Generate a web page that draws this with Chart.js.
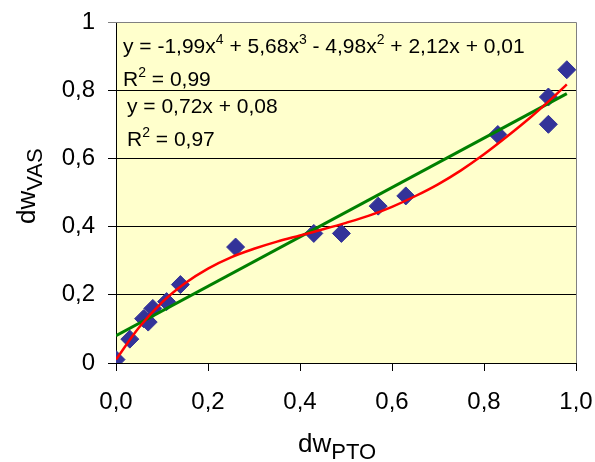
<!DOCTYPE html>
<html>
<head>
<meta charset="utf-8">
<script src="https://cdn.jsdelivr.net/npm/chart.js@4"></script>
<style>
    html, body { margin: 0; padding: 0; background: #ffffff; }
    #wrap { width: 595px; height: 462px; position: relative; }
</style>
</head>
<body>
<div id="wrap"><canvas id="scatterChart" width="595" height="462"></canvas></div>
<script>
'use strict';

// measured points (dwPTO vs dwVAS)
const dwPto = [0.00, 0.03, 0.06, 0.07, 0.08, 0.11, 0.14, 0.26, 0.43, 0.49, 0.57, 0.63, 0.83, 0.94, 0.94, 0.98];
const dwVas = [0.01, 0.07, 0.13, 0.12, 0.16, 0.18, 0.23, 0.34, 0.38, 0.38, 0.46, 0.49, 0.67, 0.78, 0.70, 0.86];

// polynomial trendline
const polyX = [0.00, 0.05, 0.10, 0.15, 0.20, 0.25, 0.30, 0.35, 0.40, 0.45, 0.50, 0.55, 0.60, 0.65, 0.70, 0.75, 0.80, 0.85, 0.90, 0.95, 0.98];
const polyY = [0.010, 0.104, 0.178, 0.234, 0.277, 0.310, 0.335, 0.356, 0.374, 0.392, 0.411, 0.432, 0.458, 0.489, 0.524, 0.565, 0.612, 0.664, 0.719, 0.779, 0.817];

// linear trendline ends
const linX = [0.00, 0.98];
const linY = [0.08, 0.79];

const xTicks = [0, 0.2, 0.4, 0.6, 0.8, 1.0];
const yTicks = [0, 0.2, 0.4, 0.6, 0.8, 1.0];

const xTitle = ['dw', 'PTO'];
const yTitle = ['dw', 'VAS'];

// equation labels: [text, superscript] pieces
const polyEquation = [['y = -1,99x', '4'], [' + 5,68x', '3'], [' - 4,98x', '2'], [' + 2,12x + 0,01', '']];
const polyR2 = [['R', '2'], [' = 0,99', '']];
const linEquation = [['y = 0,72x + 0,08', '']];
const linR2 = [['R', '2'], [' = 0,97', '']];

const FONT = '"Liberation Sans", Arial, sans-serif';

function toPoints(xs, ys) {
    return xs.map((x, i) => ({ x, y: ys[i] }));
}

function commaNumber(value, digits) {
    const rounded = Math.round(value * 10) / 10;
    const text = digits === undefined ? String(rounded) : rounded.toFixed(digits);
    return text.replace('.', ',');
}

function drawSupText(ctx, parts, x, y) {
    let cursor = x;
    parts.forEach(([text, sup]) => {
        ctx.font = `21px ${FONT}`;
        ctx.fillText(text, cursor, y);
        cursor += ctx.measureText(text).width;
        if (sup) {
            ctx.font = `14px ${FONT}`;
            ctx.fillText(sup, cursor, y - 9);
            cursor += ctx.measureText(sup).width;
        }
    });
}

function drawSubTitle(ctx, parts, x, y) {
    ctx.font = `26px ${FONT}`;
    ctx.fillText(parts[0], x, y);
    const w = ctx.measureText(parts[0]).width;
    ctx.font = `22px ${FONT}`;
    ctx.fillText(parts[1], x + w, y + 7);
}

// scale paddings off, so layout.padding alone places the plot area
function clearScalePadding(scale) {
    scale.paddingTop = 0;
    scale.paddingBottom = 0;
    scale.paddingLeft = 0;
    scale.paddingRight = 0;
}

const plotDecor = {
    id: 'plotDecor',
    beforeDraw(chart) {
        const { ctx, chartArea } = chart;
        ctx.save();
        ctx.fillStyle = '#FFFFCC';
        ctx.fillRect(chartArea.left, chartArea.top, chartArea.right - chartArea.left, chartArea.bottom - chartArea.top);
        ctx.restore();
    },
    beforeDatasetsDraw(chart) {
        const { ctx, chartArea } = chart;
        ctx.save();
        ctx.strokeStyle = '#808080';
        ctx.lineWidth = 1;
        ctx.beginPath();
        ctx.moveTo(chartArea.left, chartArea.top + 0.5);
        ctx.lineTo(chartArea.right + 0.5, chartArea.top + 0.5);
        ctx.lineTo(chartArea.right + 0.5, chartArea.bottom);
        ctx.stroke();
        ctx.restore();
    },
    afterDraw(chart) {
        const { ctx } = chart;
        ctx.save();
        ctx.fillStyle = '#000000';
        ctx.textAlign = 'left';
        ctx.textBaseline = 'alphabetic';

        drawSupText(ctx, polyEquation, 123, 53);
        drawSupText(ctx, polyR2, 123, 86);
        drawSupText(ctx, linEquation, 127, 113);
        drawSupText(ctx, linR2, 127, 146);

        drawSubTitle(ctx, xTitle, 298, 452);

        ctx.translate(35, 224);
        ctx.rotate(-Math.PI / 2);
        drawSubTitle(ctx, yTitle, 0, 0);
        ctx.restore();
    }
};

const chart = new Chart(document.getElementById('scatterChart'), {
    type: 'scatter',
    data: {
        datasets: [
            {
                label: 'poly',
                data: toPoints(polyX, polyY),
                showLine: true,
                borderColor: '#FF0000',
                borderWidth: 2.5,
                pointRadius: 0,
                tension: 0.35,
                order: 0
            },
            {
                label: 'linear',
                data: toPoints(linX, linY),
                showLine: true,
                borderColor: '#008000',
                borderWidth: 3,
                pointRadius: 0,
                order: 1
            },
            {
                label: 'dw',
                data: toPoints(dwPto, dwVas),
                pointStyle: 'rectRot',
                pointRadius: 9,
                backgroundColor: '#333399',
                borderColor: '#333399',
                borderWidth: 1,
                order: 2
            }
        ]
    },
    options: {
        responsive: false,
        animation: false,
        events: [],
        layout: {
            padding: { top: 22, right: 19, left: 0, bottom: 0 }
        },
        plugins: {
            legend: { display: false },
            tooltip: { enabled: false }
        },
        scales: {
            x: {
                type: 'linear',
                min: 0,
                max: 1,
                afterBuildTicks(scale) {
                    scale.ticks = xTicks.map((value) => ({ value }));
                },
                afterFit(scale) {
                    scale.height = 99;
                    clearScalePadding(scale);
                },
                border: { color: '#000000', width: 1 },
                grid: {
                    drawOnChartArea: false,
                    color: '#000000',
                    tickLength: 8
                },
                ticks: {
                    color: '#000000',
                    padding: 17,
                    maxRotation: 0,
                    font: { family: FONT, size: 24 },
                    callback: (value) => commaNumber(value, 1)
                }
            },
            y: {
                type: 'linear',
                min: 0,
                max: 1,
                afterBuildTicks(scale) {
                    scale.ticks = yTicks.map((value) => ({ value }));
                },
                afterFit(scale) {
                    scale.width = 116;
                    clearScalePadding(scale);
                },
                border: { color: '#000000', width: 1 },
                grid: {
                    color: (context) => (context.tick && context.tick.value === 1 ? '#808080' : '#000000'),
                    tickLength: 8
                },
                ticks: {
                    color: '#000000',
                    padding: 13,
                    font: { family: FONT, size: 24 },
                    callback: (value) => commaNumber(value)
                }
            }
        }
    },
    plugins: [plotDecor]
});
</script>
</body>
</html>
